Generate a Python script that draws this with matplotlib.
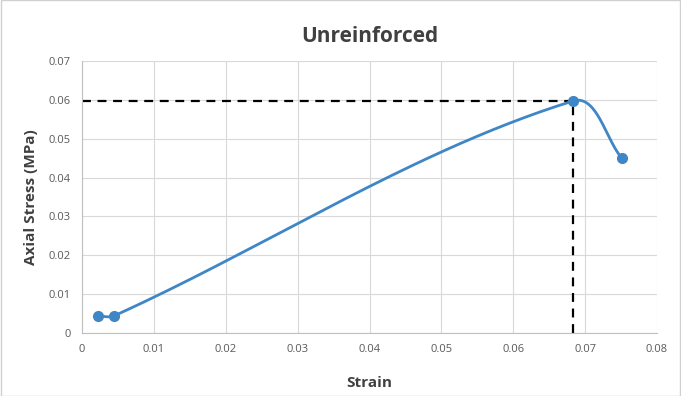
"""Unreinforced stress-strain curve (Excel-style smoothed scatter)."""

import numpy as np
import matplotlib
matplotlib.use("Agg")
import matplotlib.pyplot as plt
from matplotlib.patches import Rectangle

strain = [0.00223, 0.00445, 0.0683, 0.0751]
stress = [0.0044, 0.0044, 0.0597, 0.0450]
peak_strain = 0.0683
peak_stress = 0.0597

x_ticks = [0, 0.01, 0.02, 0.03, 0.04, 0.05, 0.06, 0.07, 0.08]
y_ticks = [0, 0.01, 0.02, 0.03, 0.04, 0.05, 0.06, 0.07]

LINE = "#3F86C7"
GRID = "#D9D9D9"
TEXT = "#595959"


def smooth_path(ax, xs, ys, n=60):
    """Bezier smoothing through the points, done in display space like Excel."""
    pts = ax.transData.transform(np.column_stack([xs, ys]))
    m = len(pts)
    tang = []
    for i in range(m):
        a = pts[max(i - 1, 0)]
        b = pts[min(i + 1, m - 1)]
        d = b - a
        tang.append(d / np.hypot(*d))
    out = []
    t = np.linspace(0, 1, n)[:, None]
    for i in range(m - 1):
        p0, p3 = pts[i], pts[i + 1]
        seg = np.hypot(*(p3 - p0)) / 3.0
        p1 = p0 + tang[i] * seg
        p2 = p3 - tang[i + 1] * seg
        curve = ((1 - t) ** 3 * p0 + 3 * (1 - t) ** 2 * t * p1
                 + 3 * (1 - t) * t ** 2 * p2 + t ** 3 * p3)
        out.append(curve)
    out = np.vstack(out)
    return ax.transData.inverted().transform(out)


fig = plt.figure(figsize=(6.81, 3.96), dpi=100)
ax = fig.add_axes([0.1204, 0.1591, 0.8444, 0.6869])

ax.set_xlim(0, 0.08)
ax.set_ylim(0, 0.07)
ax.set_xticks(x_ticks)
ax.set_yticks(y_ticks)
ax.set_xticklabels(["0" if v == 0 else f"{v:g}" for v in x_ticks])
ax.set_yticklabels(["0" if v == 0 else f"{v:g}" for v in y_ticks])
ax.grid(True, color=GRID, linewidth=0.8)
ax.set_axisbelow(True)
for side in ["top", "right"]:
    ax.spines[side].set_visible(False)
for side in ["left", "bottom"]:
    ax.spines[side].set_color("#BFBFBF")
    ax.spines[side].set_linewidth(0.8)
ax.tick_params(length=0, pad=8, labelsize=8, labelcolor=TEXT)
for lab in ax.get_xticklabels() + ax.get_yticklabels():
    lab.set_family("Open Sans")

# dashed lines to the peak
ax.plot([0, peak_strain], [peak_stress, peak_stress], "k--", lw=1.6,
        dashes=(4, 3), zorder=2)
ax.plot([peak_strain, peak_strain], [0, peak_stress], "k--", lw=1.6,
        dashes=(4, 3), zorder=2)

fig.canvas.draw()
curve = smooth_path(ax, strain, stress)
ax.plot(curve[:, 0], curve[:, 1], color=LINE, lw=2.0, zorder=3,
        solid_capstyle="round")
ax.plot(strain, stress, "o", color=LINE, ms=7, zorder=4)

ax.set_title("Unreinforced", fontsize=15, fontweight="bold", color="#404040",
             family="Open Sans", pad=14)
ax.set_xlabel("Strain", fontsize=11, fontweight="bold", color="#404040",
              family="Open Sans", labelpad=15)
ax.set_ylabel("Axial Stress (MPa)", fontsize=11, fontweight="bold",
              color="#404040", family="Open Sans", labelpad=8)

fig.patches.append(Rectangle((0.001, 0.001), 0.998, 0.998,
                             transform=fig.transFigure, fill=False,
                             edgecolor="#D0D0D0", lw=1))

fig.savefig("out.png", dpi=100)
